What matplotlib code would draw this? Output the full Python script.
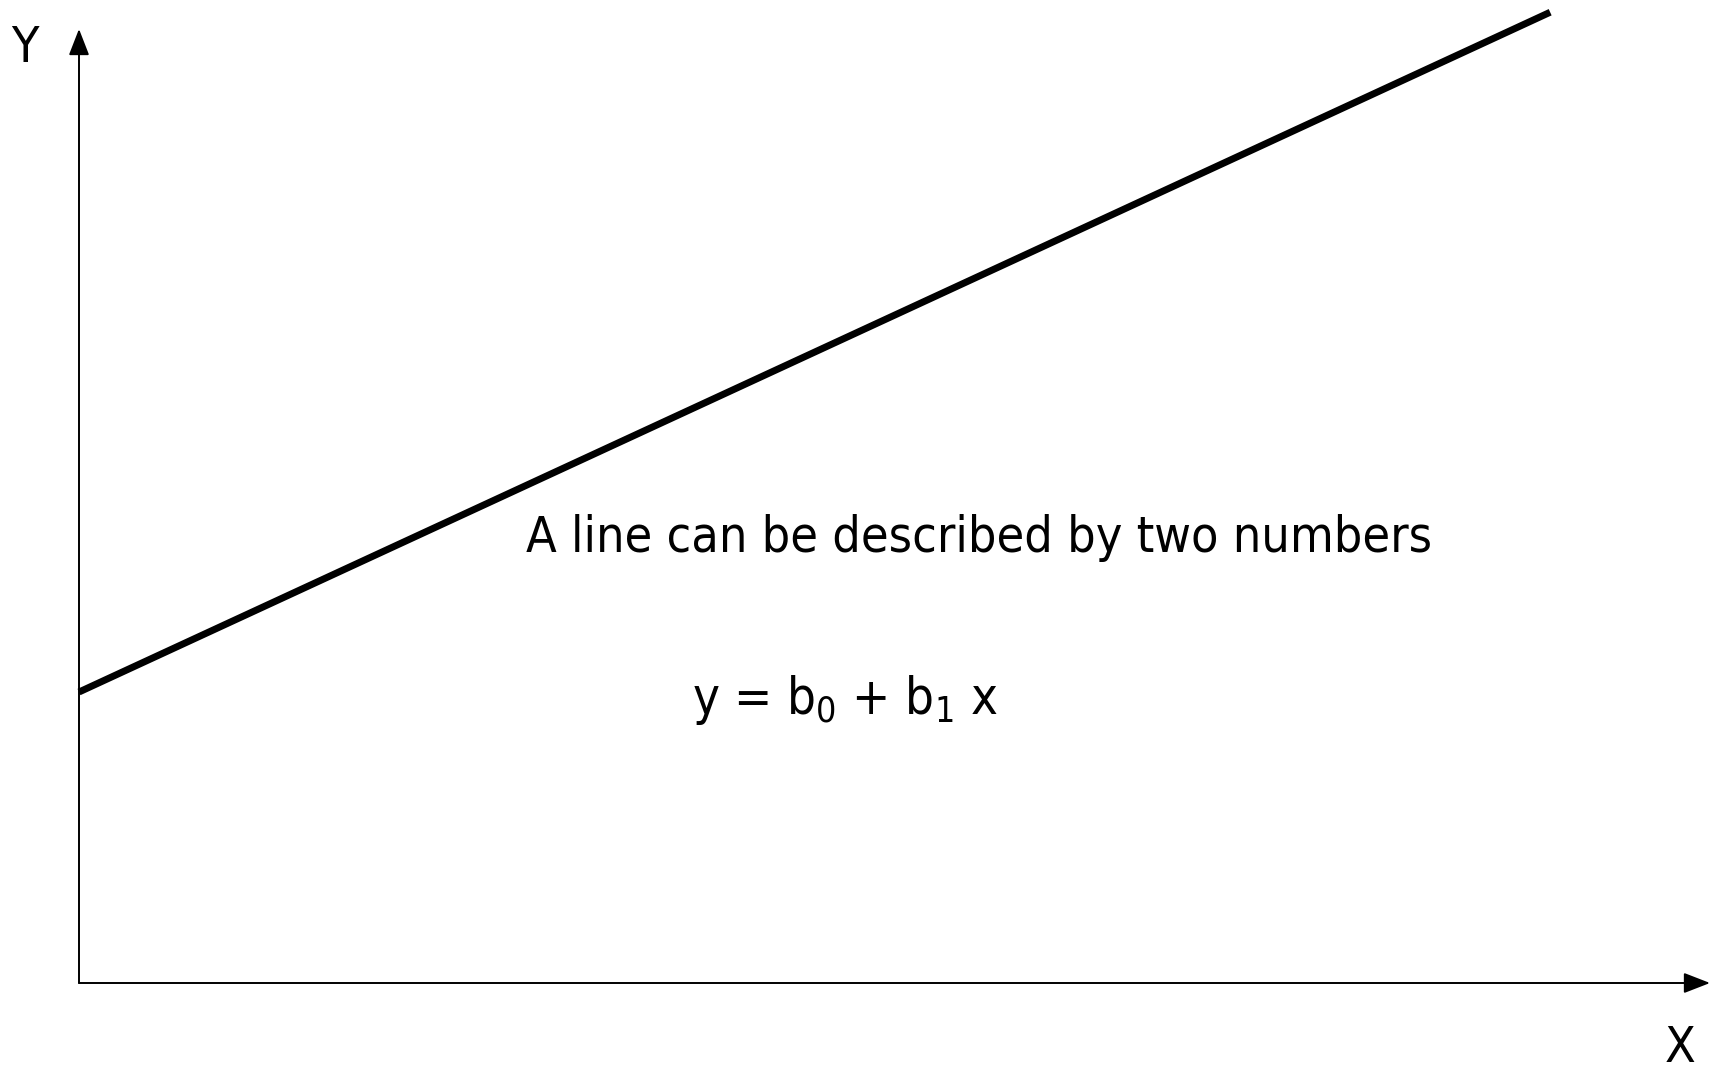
import matplotlib
matplotlib.use("Agg")
import matplotlib.pyplot as plt
import numpy as np

# line y = b0 + b1 * x, in data units
b0 = 3.05
b1 = 0.79
x_line = np.array([0.0, 9.02])
y_line = b0 + b1 * x_line

title_text = "A line can be described by two numbers"
eq_text = r"y = b$_0$ + b$_1$ x"

plt.rcParams['font.family'] = ['DejaVu Sans']
plt.rcParams['font.stretch'] = 'condensed'
plt.rcParams['mathtext.fontset'] = 'custom'
plt.rcParams['mathtext.rm'] = 'DejaVu Sans:stretch=condensed'
plt.rcParams['mathtext.it'] = 'DejaVu Sans:stretch=condensed'

W, H = 1710, 1072
fig = plt.figure(figsize=(W / 100, H / 100), dpi=100)
ox, oy = 79, 983
ax = fig.add_axes([ox / W, 1 - oy / H, (1710 - ox) / W, (oy - 29) / H])
ax.set_xlim(0, 10)
ax.set_ylim(0, 10)
ax.axis('off')

ax.plot(x_line, y_line, color='black', lw=5, solid_capstyle='butt', clip_on=False)

arrow = dict(arrowstyle='-|>,head_length=0.9,head_width=0.35', lw=1.4,
             color='black', mutation_scale=18, shrinkA=0, shrinkB=0)
ax.annotate('', xy=(0, 1), xytext=(0, 0), xycoords='axes fraction', arrowprops=arrow)
ax.annotate('', xy=(1, 0), xytext=(0, 0), xycoords='axes fraction', arrowprops=arrow)

fig.text(25 / W, 1 - 62 / H, 'Y', fontsize=36, ha='center', va='baseline')
fig.text(1680 / W, 1 - 1062 / H, 'X', fontsize=36, ha='center', va='baseline')
fig.text(526 / W, 1 - 552 / H, title_text, fontsize=36, ha='left', va='baseline')
fig.text(692 / W, 1 - 714 / H, eq_text, fontsize=36.5, ha='left', va='baseline')

fig.savefig('out.png', dpi=100)
